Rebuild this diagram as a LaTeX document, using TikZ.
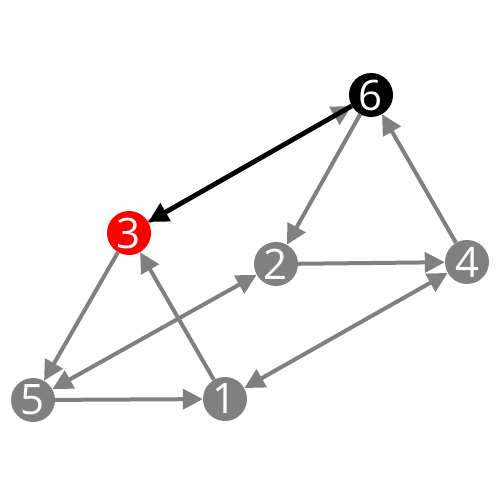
\documentclass[tikz,border=0pt]{standalone}
\usepackage{fontspec}
\setmainfont{Open Sans}
\usetikzlibrary{arrows.meta}
\definecolor{eg}{RGB}{128,128,128}
\begin{document}
\begin{tikzpicture}[x=1pt,y=-1pt,
  vtx/.style={circle,minimum size=44pt,inner sep=0pt,fill=eg,text=white,font=\fontsize{42}{42}\selectfont},
  edge/.style={draw=eg,line width=4pt,-{Triangle[length=20pt,width=20pt]}},
  bedge/.style={draw=eg,line width=4pt,{Triangle[length=20pt,width=20pt]}-{Triangle[length=20pt,width=20pt]}},
  blkedge/.style={draw=black,line width=4.8pt,-{Triangle[length=20pt,width=20pt]}}]
\useasboundingbox (0,0) rectangle (500,500);
\node[vtx,fill=black] (n6) at (371,95) {6};
\node[vtx,fill=red] (n3) at (129,233) {3};
\node[vtx] (n2) at (276,264) {2};
\node[vtx] (n4) at (467,262) {4};
\node[vtx] (n5) at (33,400) {5};
\node[vtx] (n1) at (225,399) {1};
\draw[edge] (n3) -- (n6);
\draw[blkedge] (n6) -- (n3);
\draw[edge] (n6) -- (n2);
\draw[edge] (n4) -- (n6);
\draw[edge] (n2) -- (n4);
\draw[bedge] (n2) -- (n5);
\draw[edge] (n3) -- (n5);
\draw[edge] (n1) -- (n3);
\draw[edge] (n5) -- (n1);
\draw[bedge] (n1) -- (n4);
\end{tikzpicture}
\end{document}
